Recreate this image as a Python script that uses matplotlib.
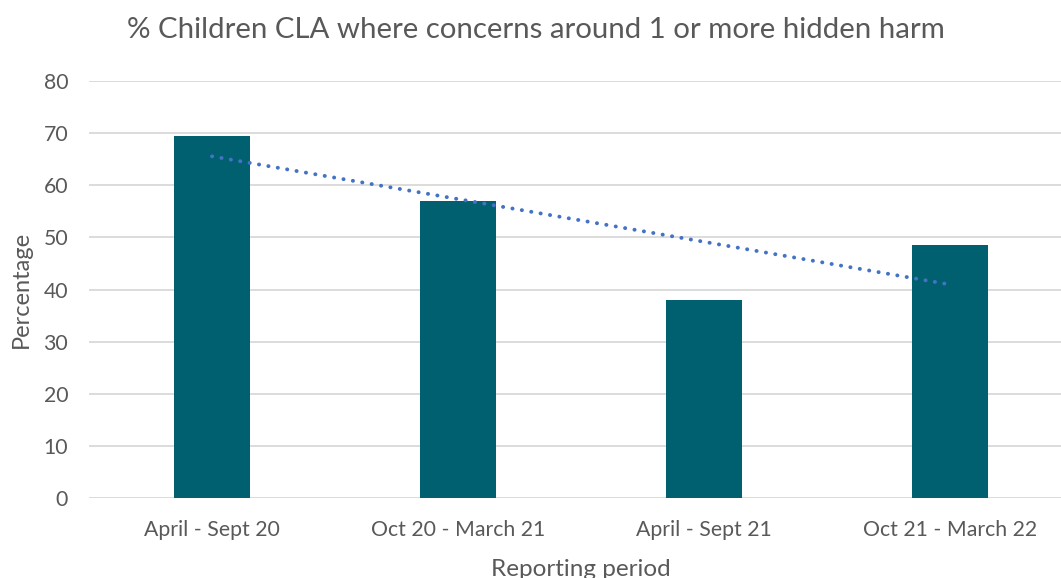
import matplotlib.pyplot as plt
import numpy as np

plt.rcParams['font.family'] = ['Lato', 'DejaVu Sans']

periods = ["April - Sept 20", "Oct 20 - March 21", "April - Sept 21", "Oct 21 - March 22"]
percentages = [69.5, 57, 38, 48.5]

W, H = 1061, 578
fig = plt.figure(figsize=(W / 100, H / 100), dpi=100)
# plot area: x from 89px, spacing 246px per category (right side cropped)
ax = fig.add_axes([89 / W, 80 / H, 984 / W, 417 / H])

x = np.arange(len(periods))
ax.bar(x, percentages, width=0.31, color='#00606F', zorder=3)

# linear trendline
slope, intercept = np.polyfit(x, percentages, 1)
ax.plot(x, slope * x + intercept, linestyle=(0, (0.05, 2.4)), color='#4472C4',
        linewidth=2.8, dash_capstyle='round', zorder=4)

ax.set_xlim(-0.5, 3.5)
ax.set_ylim(0, 80)
ax.set_yticks(range(0, 81, 10))
ax.set_xticks(x)
ax.set_xticklabels(periods)
ax.grid(axis='y', color='#D9D9D9', linewidth=1.3, zorder=0)
ax.tick_params(length=0, labelsize=15.3, colors='#595959')
ax.tick_params(axis='x', pad=15.5)
ax.tick_params(axis='y', pad=15)
for s in ax.spines.values():
    s.set_visible(False)

ax.set_ylabel("Percentage", fontsize=17, color='#595959', labelpad=8)
ax.set_xlabel("Reporting period", fontsize=17.5, color='#595959', labelpad=14)
fig.text(536 / W, 1 - 30 / H, "% Children CLA where concerns around 1 or more hidden harm",
         ha='center', va='center', fontsize=21.2, color='#595959')

fig.savefig("out.png", dpi=100)
